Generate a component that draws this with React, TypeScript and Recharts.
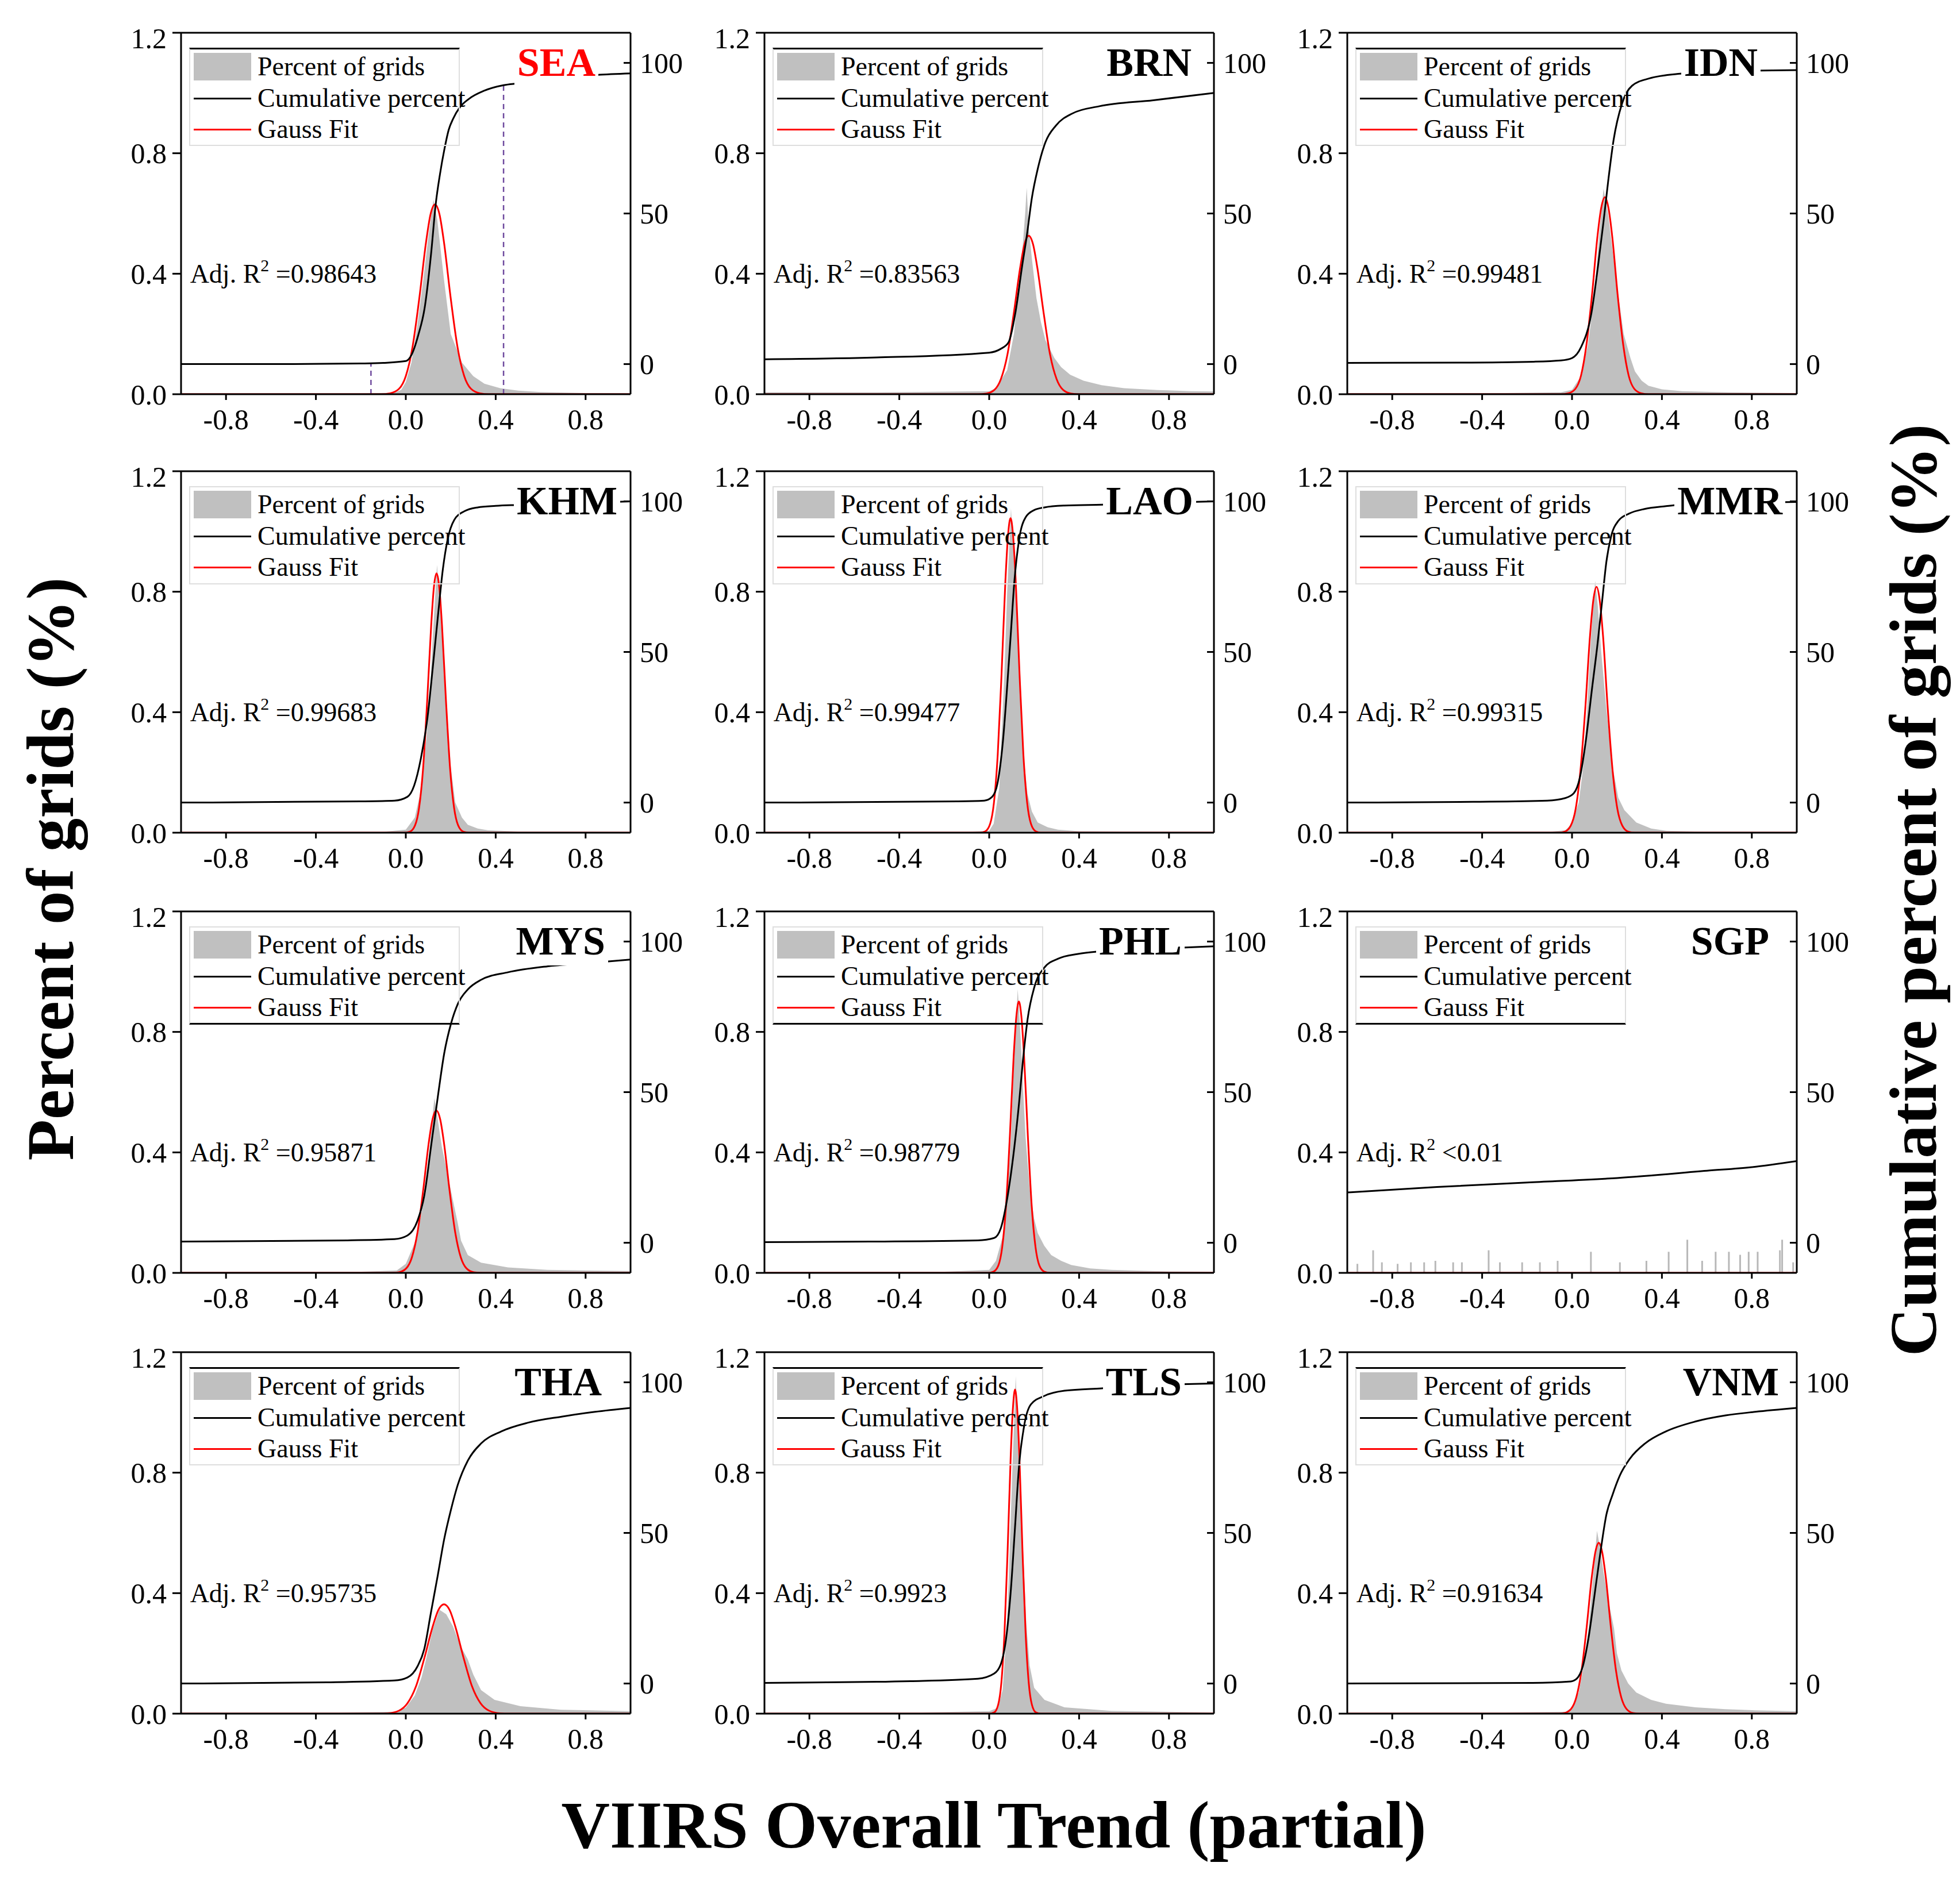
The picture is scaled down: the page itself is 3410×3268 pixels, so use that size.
import React from 'react';
import { ComposedChart, Area, Line, XAxis, YAxis, ReferenceLine, ReferenceDot, Legend } from 'recharts';

type Pt = [number, number];

const X_TICKS = [-0.8, -0.4, 0, 0.4, 0.8];
const LEFT_TICKS = [0, 0.4, 0.8, 1.2];
const RIGHT_TICKS = [0, 50, 100];
const LEGEND_LABELS = ['Percent of grids', 'Cumulative percent', 'Gauss Fit'];

// histogram outline (x, percent of grids)
const SEA_HIST: Pt[] = [[-1, 0.003], [-0.2, 0.003], [-0.05, 0.005], [-0.02, 0.015], [0, 0.04], [0.025, 0.105], [0.05, 0.22], [0.078, 0.38], [0.1, 0.52], [0.123, 0.646], [0.14, 0.58], [0.17, 0.38], [0.2, 0.2], [0.25, 0.105], [0.3, 0.06], [0.35, 0.035], [0.42, 0.02], [0.5, 0.012], [0.6, 0.007], [0.8, 0.004], [1, 0.003]];
const BRN_HIST: Pt[] = [[-1, 0.006], [-0.5, 0.006], [0, 0.01], [0.03, 0.02], [0.08, 0.08], [0.11, 0.2], [0.13, 0.35], [0.15, 0.5], [0.16, 0.6], [0.167, 0.686], [0.175, 0.56], [0.19, 0.45], [0.21, 0.32], [0.23, 0.24], [0.25, 0.18], [0.27, 0.15], [0.29, 0.12], [0.32, 0.09], [0.36, 0.065], [0.42, 0.045], [0.5, 0.03], [0.6, 0.02], [0.75, 0.014], [0.9, 0.01], [1, 0.009]];
const IDN_HIST: Pt[] = [[-1, 0.004], [-0.3, 0.004], [-0.05, 0.006], [0, 0.015], [0.04, 0.06], [0.07, 0.16], [0.1, 0.33], [0.12, 0.52], [0.14, 0.682], [0.16, 0.6], [0.18, 0.48], [0.206, 0.327], [0.23, 0.2], [0.26, 0.12], [0.28, 0.076], [0.31, 0.045], [0.34, 0.028], [0.4, 0.016], [0.49, 0.01], [0.7, 0.006], [1, 0.004]];
const KHM_HIST: Pt[] = [[-1, 0.002], [-0.1, 0.003], [0, 0.01], [0.04, 0.05], [0.07, 0.15], [0.09, 0.3], [0.106, 0.43], [0.12, 0.65], [0.139, 0.889], [0.155, 0.72], [0.17, 0.55], [0.18, 0.43], [0.2, 0.22], [0.22, 0.1], [0.25, 0.05], [0.276, 0.026], [0.32, 0.014], [0.365, 0.008], [0.5, 0.004], [1, 0.002]];
const LAO_HIST: Pt[] = [[-1, 0.002], [-0.1, 0.003], [0, 0.006], [0.02, 0.03], [0.045, 0.15], [0.067, 0.52], [0.08, 0.8], [0.097, 1.077], [0.11, 0.9], [0.12, 0.75], [0.133, 0.52], [0.15, 0.28], [0.17, 0.13], [0.19, 0.07], [0.216, 0.034], [0.26, 0.018], [0.306, 0.01], [0.4, 0.005], [1, 0.002]];
const MMR_HIST: Pt[] = [[-1, 0.002], [-0.1, 0.003], [-0.03, 0.008], [0, 0.03], [0.03, 0.1], [0.05, 0.22], [0.067, 0.408], [0.085, 0.65], [0.103, 0.836], [0.115, 0.75], [0.13, 0.6], [0.153, 0.408], [0.18, 0.22], [0.206, 0.116], [0.233, 0.075], [0.286, 0.034], [0.352, 0.014], [0.42, 0.006], [0.6, 0.003], [1, 0.002]];
const MYS_HIST: Pt[] = [[-1, 0.004], [-0.2, 0.004], [-0.04, 0.008], [0, 0.03], [0.04, 0.1], [0.07, 0.2], [0.09, 0.27], [0.11, 0.45], [0.127, 0.58], [0.14, 0.52], [0.16, 0.42], [0.185, 0.33], [0.21, 0.24], [0.23, 0.17], [0.246, 0.107], [0.276, 0.059], [0.335, 0.034], [0.455, 0.018], [0.63, 0.01], [1, 0.006]];
const PHL_HIST: Pt[] = [[-1, 0.003], [-0.2, 0.004], [0, 0.01], [0.03, 0.04], [0.06, 0.12], [0.08, 0.25], [0.097, 0.45], [0.11, 0.7], [0.127, 0.942], [0.14, 0.78], [0.15, 0.62], [0.162, 0.45], [0.18, 0.28], [0.2, 0.18], [0.216, 0.132], [0.245, 0.09], [0.276, 0.059], [0.32, 0.04], [0.365, 0.026], [0.45, 0.015], [0.544, 0.01], [0.8, 0.005], [1, 0.004]];
const SGP_HIST: Pt[] = [];
const THA_HIST: Pt[] = [[-1, 0.004], [-0.3, 0.004], [-0.05, 0.006], [0, 0.02], [0.04, 0.06], [0.07, 0.12], [0.09, 0.18], [0.12, 0.28], [0.15, 0.345], [0.18, 0.33], [0.21, 0.29], [0.24, 0.23], [0.276, 0.18], [0.3, 0.13], [0.335, 0.078], [0.395, 0.046], [0.51, 0.025], [0.69, 0.013], [1, 0.008]];
const TLS_HIST: Pt[] = [[-1, 0.003], [-0.3, 0.004], [0, 0.008], [0.04, 0.02], [0.06, 0.08], [0.08, 0.3], [0.091, 0.54], [0.105, 0.85], [0.118, 1.12], [0.13, 0.9], [0.14, 0.72], [0.151, 0.54], [0.165, 0.3], [0.18, 0.16], [0.2, 0.086], [0.246, 0.046], [0.335, 0.021], [0.544, 0.009], [1, 0.004]];
const VNM_HIST: Pt[] = [[-1, 0.003], [-0.3, 0.004], [-0.03, 0.006], [0, 0.02], [0.03, 0.07], [0.05, 0.15], [0.074, 0.283], [0.09, 0.42], [0.111, 0.607], [0.125, 0.55], [0.14, 0.47], [0.16, 0.38], [0.187, 0.283], [0.2, 0.2], [0.22, 0.143], [0.25, 0.1], [0.286, 0.07], [0.352, 0.046], [0.418, 0.033], [0.55, 0.021], [0.683, 0.015], [0.815, 0.011], [1, 0.008]];

// Singapore only has scattered single bins (x, height)
const SGP_SPIKES: Pt[] = [[-0.955, 0.03], [-0.885, 0.075], [-0.846, 0.035], [-0.776, 0.03], [-0.717, 0.035], [-0.658, 0.035], [-0.608, 0.04], [-0.529, 0.035], [-0.49, 0.035], [-0.371, 0.075], [-0.321, 0.035], [-0.222, 0.035], [-0.143, 0.035], [-0.064, 0.04], [0.084, 0.07], [0.213, 0.035], [0.331, 0.04], [0.43, 0.07], [0.513, 0.11], [0.579, 0.04], [0.639, 0.07], [0.698, 0.07], [0.748, 0.06], [0.786, 0.07], [0.826, 0.07], [0.925, 0.075], [0.935, 0.11], [0.984, 0.035]];

// gauss fit
const SEA_GAUSS: Pt[] = [[-1, 0], [-0.11, 0], [-0.07, 0.003], [-0.03, 0.018], [0, 0.06], [0.03, 0.157], [0.06, 0.318], [0.09, 0.504], [0.11, 0.597], [0.13, 0.63], [0.15, 0.597], [0.17, 0.504], [0.2, 0.318], [0.23, 0.157], [0.26, 0.06], [0.29, 0.018], [0.33, 0.003], [0.37, 0], [1, 0]];
const BRN_GAUSS: Pt[] = [[-1, 0], [-0.05, 0], [-0.014, 0.002], [0.024, 0.015], [0.052, 0.05], [0.081, 0.131], [0.109, 0.266], [0.138, 0.421], [0.157, 0.498], [0.176, 0.526], [0.195, 0.498], [0.214, 0.421], [0.243, 0.266], [0.271, 0.131], [0.3, 0.05], [0.328, 0.015], [0.366, 0.002], [0.4, 0], [1, 0]];
const IDN_GAUSS: Pt[] = [[-1, 0], [-0.05, 0], [-0.017, 0.003], [0.015, 0.018], [0.04, 0.062], [0.064, 0.163], [0.089, 0.33], [0.113, 0.523], [0.13, 0.619], [0.146, 0.654], [0.162, 0.619], [0.179, 0.523], [0.203, 0.33], [0.228, 0.163], [0.252, 0.062], [0.277, 0.018], [0.309, 0.003], [0.34, 0], [1, 0]];
const KHM_GAUSS: Pt[] = [[-1, 0], [-0.01, 0], [0.017, 0.003], [0.041, 0.024], [0.059, 0.082], [0.077, 0.214], [0.095, 0.435], [0.113, 0.689], [0.125, 0.815], [0.137, 0.861], [0.149, 0.815], [0.161, 0.689], [0.179, 0.435], [0.197, 0.214], [0.215, 0.082], [0.233, 0.024], [0.257, 0.003], [0.28, 0], [1, 0]];
const LAO_GAUSS: Pt[] = [[-1, 0], [-0.04, 0], [-0.018, 0.004], [0.004, 0.029], [0.021, 0.099], [0.038, 0.26], [0.055, 0.527], [0.072, 0.835], [0.084, 0.989], [0.095, 1.044], [0.106, 0.989], [0.118, 0.835], [0.135, 0.527], [0.152, 0.26], [0.169, 0.099], [0.186, 0.029], [0.208, 0.004], [0.23, 0], [1, 0]];
const MMR_GAUSS: Pt[] = [[-1, 0], [-0.06, 0], [-0.034, 0.003], [-0.006, 0.023], [0.016, 0.078], [0.037, 0.203], [0.059, 0.412], [0.08, 0.653], [0.095, 0.773], [0.109, 0.816], [0.123, 0.773], [0.138, 0.653], [0.159, 0.412], [0.181, 0.203], [0.202, 0.078], [0.224, 0.023], [0.252, 0.003], [0.28, 0], [1, 0]];
const MYS_GAUSS: Pt[] = [[-1, 0], [-0.06, 0], [-0.031, 0.002], [0.002, 0.015], [0.027, 0.051], [0.052, 0.134], [0.077, 0.272], [0.102, 0.431], [0.119, 0.51], [0.136, 0.539], [0.153, 0.51], [0.17, 0.431], [0.195, 0.272], [0.22, 0.134], [0.245, 0.051], [0.27, 0.015], [0.303, 0.002], [0.34, 0], [1, 0]];
const PHL_GAUSS: Pt[] = [[-1, 0], [-0.005, 0], [0.019, 0.004], [0.041, 0.025], [0.058, 0.086], [0.075, 0.224], [0.092, 0.455], [0.109, 0.721], [0.121, 0.853], [0.132, 0.901], [0.143, 0.853], [0.155, 0.721], [0.172, 0.455], [0.189, 0.224], [0.206, 0.086], [0.223, 0.025], [0.245, 0.004], [0.27, 0], [1, 0]];
const SGP_GAUSS: Pt[] = [[-1, 0], [1, 0]];
const THA_GAUSS: Pt[] = [[-1, 0], [-0.12, 0], [-0.08, 0.001], [-0.03, 0.01], [0.007, 0.034], [0.045, 0.09], [0.082, 0.183], [0.12, 0.29], [0.145, 0.344], [0.17, 0.363], [0.195, 0.344], [0.22, 0.29], [0.258, 0.183], [0.295, 0.09], [0.333, 0.034], [0.37, 0.01], [0.42, 0.001], [0.46, 0], [1, 0]];
const TLS_GAUSS: Pt[] = [[-1, 0], [0, 0], [0.022, 0.004], [0.04, 0.03], [0.054, 0.102], [0.068, 0.268], [0.082, 0.543], [0.096, 0.861], [0.106, 1.019], [0.115, 1.076], [0.124, 1.019], [0.134, 0.861], [0.148, 0.543], [0.162, 0.268], [0.176, 0.102], [0.19, 0.03], [0.208, 0.004], [0.23, 0], [1, 0]];
const VNM_GAUSS: Pt[] = [[-1, 0], [-0.06, 0], [-0.034, 0.002], [-0.004, 0.016], [0.019, 0.054], [0.042, 0.141], [0.065, 0.286], [0.088, 0.454], [0.104, 0.537], [0.119, 0.567], [0.134, 0.537], [0.15, 0.454], [0.173, 0.286], [0.196, 0.141], [0.219, 0.054], [0.242, 0.016], [0.272, 0.002], [0.3, 0], [1, 0]];

// cumulative percent (right axis)
const SEA_CUM: Pt[] = [[-1, 0], [-0.5, 0], [-0.2, 0.2], [-0.1, 0.4], [0, 1], [0.025, 3], [0.055, 9.5], [0.084, 18.7], [0.113, 37], [0.133, 53], [0.152, 63], [0.172, 71.4], [0.191, 77.8], [0.211, 81.5], [0.24, 85.2], [0.28, 88], [0.35, 90.8], [0.435, 92.6], [0.5, 93.2], [0.7, 95], [0.85, 96], [1, 96.5]];
const BRN_CUM: Pt[] = [[-1, 1.6], [-0.5, 2.2], [0, 3.8], [0.05, 5], [0.086, 7.2], [0.116, 16.8], [0.147, 32.8], [0.167, 42.4], [0.19, 55.2], [0.216, 64.8], [0.25, 73.6], [0.297, 79.2], [0.37, 83.2], [0.49, 85.6], [0.73, 87.6], [1, 90]];
const IDN_CUM: Pt[] = [[-1, 0.4], [-0.5, 0.5], [-0.17, 0.8], [-0.05, 1.2], [0, 2], [0.04, 5.6], [0.086, 16.8], [0.116, 32.8], [0.14, 47.2], [0.161, 60.8], [0.185, 74.4], [0.222, 86.4], [0.267, 92.4], [0.342, 94.8], [0.48, 96.4], [0.7, 97.2], [1, 97.6]];
const KHM_CUM: Pt[] = [[-1, 0], [-0.2, 0.4], [-0.05, 0.65], [0.007, 1.9], [0.037, 5.6], [0.067, 14.6], [0.097, 28.5], [0.12, 44.8], [0.142, 61.2], [0.165, 77.5], [0.186, 87.3], [0.216, 93.9], [0.26, 96.7], [0.32, 98], [0.4, 98.5], [0.5, 98.8], [0.8, 99.5], [1, 100]];
const LAO_CUM: Pt[] = [[-1, 0], [-0.14, 0.4], [-0.022, 0.65], [0.013, 1.9], [0.037, 6.4], [0.061, 20.3], [0.082, 40.7], [0.097, 57], [0.112, 73.4], [0.133, 87.3], [0.162, 94.7], [0.2, 97.1], [0.246, 98], [0.335, 98.6], [0.5, 98.9], [0.8, 99.6], [1, 100]];
const MMR_CUM: Pt[] = [[-1, 0], [-0.44, 0.25], [-0.11, 0.65], [-0.03, 1.5], [0.008, 3.1], [0.034, 8], [0.061, 20.3], [0.087, 36.6], [0.114, 53], [0.134, 66.9], [0.153, 80], [0.173, 88.1], [0.206, 93.5], [0.253, 95.9], [0.325, 97.5], [0.418, 98.4], [0.47, 98.8], [0.8, 99.5], [1, 99.8]];
const MYS_CUM: Pt[] = [[-1, 0.4], [-0.26, 0.8], [-0.05, 1.2], [0.007, 2.4], [0.052, 7.3], [0.082, 15.5], [0.112, 31.8], [0.142, 48.2], [0.171, 62.9], [0.201, 72.7], [0.231, 79.2], [0.276, 84.1], [0.335, 87.3], [0.455, 89.8], [0.633, 91.8], [0.872, 93.2], [1, 94]];
const PHL_CUM: Pt[] = [[-1, 0.2], [-0.53, 0.4], [-0.05, 0.8], [0.022, 1.6], [0.052, 4.9], [0.082, 15.5], [0.112, 31.8], [0.133, 46.5], [0.15, 60.4], [0.171, 74.3], [0.201, 84.9], [0.246, 91.4], [0.306, 94.3], [0.395, 95.9], [0.484, 96.7], [0.8, 97.8], [1, 98.4]];
const SGP_CUM: Pt[] = [[-1, 16.7], [-0.6, 18.5], [-0.2, 20], [0.2, 21.5], [0.6, 23.9], [0.8, 25.1], [1, 27.1]];
const THA_CUM: Pt[] = [[-1, 0], [-0.35, 0.4], [-0.05, 1], [0.007, 2], [0.052, 5.7], [0.082, 11.4], [0.112, 23.6], [0.142, 35.8], [0.171, 48], [0.201, 57.7], [0.231, 65.9], [0.276, 74], [0.335, 79.7], [0.425, 83.7], [0.544, 86.6], [0.693, 88.6], [0.842, 90.2], [1, 91.5]];
const TLS_CUM: Pt[] = [[-1, 0.2], [-0.35, 0.8], [-0.05, 1.6], [0.022, 3.3], [0.052, 6.5], [0.076, 15.4], [0.097, 31.7], [0.115, 52], [0.133, 72.4], [0.157, 86.2], [0.186, 92.7], [0.246, 95.5], [0.335, 97.2], [0.5, 98], [0.8, 99.2], [1, 99.6]];
const VNM_CUM: Pt[] = [[-1, 0], [-0.177, 0.2], [-0.005, 0.7], [0.021, 1.6], [0.048, 5.7], [0.074, 15.4], [0.1, 29.3], [0.127, 43.9], [0.153, 56.1], [0.18, 62.6], [0.213, 69.1], [0.259, 74.8], [0.325, 79.7], [0.418, 83.7], [0.55, 87], [0.683, 89], [0.815, 90.2], [1, 91.5]];

// dashed markers on the SEA panel: x, cumulative value they reach
const SEA_MARKS: Pt[] = [[-0.155, 0.3], [0.435, 92.6]];

const PANELS = [
  { code: 'SEA', color: '#ff0000', r2: '=0.98643', hist: SEA_HIST, gauss: SEA_GAUSS, cum: SEA_CUM, labelRight: 61, topDark: true, bottomDark: false, marks: SEA_MARKS },
  { code: 'BRN', color: '#000', r2: '=0.83563', hist: BRN_HIST, gauss: BRN_GAUSS, cum: BRN_CUM, labelRight: 39, topDark: true, bottomDark: false },
  { code: 'IDN', color: '#000', r2: '=0.99481', hist: IDN_HIST, gauss: IDN_GAUSS, cum: IDN_CUM, labelRight: 68, topDark: true, bottomDark: false },
  { code: 'KHM', color: '#000', r2: '=0.99683', hist: KHM_HIST, gauss: KHM_GAUSS, cum: KHM_CUM, labelRight: 23, topDark: false, bottomDark: false },
  { code: 'LAO', color: '#000', r2: '=0.99477', hist: LAO_HIST, gauss: LAO_GAUSS, cum: LAO_CUM, labelRight: 36, topDark: false, bottomDark: false },
  { code: 'MMR', color: '#000', r2: '=0.99315', hist: MMR_HIST, gauss: MMR_GAUSS, cum: MMR_CUM, labelRight: 25, topDark: false, bottomDark: false },
  { code: 'MYS', color: '#000', r2: '=0.95871', hist: MYS_HIST, gauss: MYS_GAUSS, cum: MYS_CUM, labelRight: 44, topDark: false, bottomDark: true },
  { code: 'PHL', color: '#000', r2: '=0.98779', hist: PHL_HIST, gauss: PHL_GAUSS, cum: PHL_CUM, labelRight: 56, topDark: false, bottomDark: true },
  { code: 'SGP', color: '#000', r2: '<0.01', hist: SGP_HIST, gauss: SGP_GAUSS, cum: SGP_CUM, labelRight: 48, topDark: false, bottomDark: true, spikes: SGP_SPIKES },
  { code: 'THA', color: '#000', r2: '=0.95735', hist: THA_HIST, gauss: THA_GAUSS, cum: THA_CUM, labelRight: 50, topDark: true, bottomDark: false },
  { code: 'TLS', color: '#000', r2: '=0.9923', hist: TLS_HIST, gauss: TLS_GAUSS, cum: TLS_CUM, labelRight: 56, topDark: true, bottomDark: false },
  { code: 'VNM', color: '#000', r2: '=0.91634', hist: VNM_HIST, gauss: VNM_GAUSS, cum: VNM_CUM, labelRight: 31, topDark: true, bottomDark: false },
];

const FONT = '"Liberation Serif", "Times New Roman", serif';
const COL_X = [315, 1330, 2344];
const ROW_Y = [57, 820, 1586, 2353];
const PLOT_W = 782;
const PLOT_H = 629;
const AXIS_L = 150;
const AXIS_R = 150;
const TOP = 20;
const X_AXIS_H = 90;
const CHART_W = AXIS_L + PLOT_W + AXIS_R;
const CHART_H = TOP + PLOT_H + X_AXIS_H;

const toXY = (pts: Pt[]) => pts.map(([x, y]) => ({ x, y }));
const tickStyle = { fill: '#000', fontSize: 50, fontFamily: FONT };
const axisStroke = { stroke: '#000', strokeWidth: 3 };

const LegendBox = ({ topDark, bottomDark }: { topDark: boolean; bottomDark: boolean }) => {
  const light = '2px solid #dedede';
  const dark = '3px solid #000';
  const rowTop = [32, 87, 141];
  return (
    <div
      style={{
        position: 'relative', width: 471, height: 171, boxSizing: 'border-box',
        border: light, borderTop: topDark ? dark : light, borderBottom: bottomDark ? dark : light,
        fontFamily: FONT, fontSize: 46, color: '#000',
      }}
    >
      {LEGEND_LABELS.map((label, i) => (
        <div key={label} style={{ position: 'absolute', left: 0, top: rowTop[i] - 27, height: 50, width: 469 }}>
          {i === 0 && <div style={{ position: 'absolute', left: 6, top: 1, width: 100, height: 48, background: '#c0c0c0' }} />}
          {i > 0 && <div style={{ position: 'absolute', left: 6, top: 24, width: 100, height: 3, background: i === 1 ? '#000' : '#ff0000' }} />}
          <div style={{ position: 'absolute', left: 117, top: 0, lineHeight: '50px', whiteSpace: 'nowrap' }}>{label}</div>
        </div>
      ))}
    </div>
  );
};

const Panel = ({ p, index }: { p: any; index: number }) => {
  const left = COL_X[index % 3] - AXIS_L;
  const top = ROW_Y[Math.floor(index / 3)] - TOP;
  return (
    <div style={{ position: 'absolute', left, top, width: CHART_W, height: CHART_H }}>
      <ComposedChart width={CHART_W} height={CHART_H} margin={{ top: TOP, right: 0, bottom: 0, left: 0 }}>
        <XAxis xAxisId="b" type="number" dataKey="x" domain={[-1, 1]} ticks={X_TICKS} allowDataOverflow
          tickFormatter={(v: number) => v.toFixed(1)} height={X_AXIS_H} tickSize={10} tickMargin={15}
          tick={tickStyle} axisLine={axisStroke} tickLine={axisStroke} />
        <YAxis yAxisId="left" type="number" domain={[0, 1.2]} ticks={LEFT_TICKS} allowDataOverflow
          tickFormatter={(v: number) => v.toFixed(1)} width={AXIS_L} tickSize={15} tickMargin={10}
          tick={tickStyle} axisLine={axisStroke} tickLine={axisStroke} />
        <YAxis yAxisId="right" orientation="right" type="number" domain={[-10, 110]} ticks={RIGHT_TICKS} allowDataOverflow
          width={AXIS_R} tickSize={-12} tickMargin={28}
          tick={tickStyle} axisLine={axisStroke} tickLine={axisStroke} />
        <Legend layout="horizontal" verticalAlign="middle" align="center"
          wrapperStyle={{ left: AXIS_L + 14, top: TOP + 26, width: 471, height: 171 }}
          content={() => <LegendBox topDark={p.topDark} bottomDark={p.bottomDark} />} />
        {/* top edge of the frame */}
        <ReferenceLine xAxisId="b" yAxisId="left" y={1.2} stroke="#000" strokeWidth={3} />
        {p.hist.length > 0 && (
          <Area data={toXY(p.hist)} dataKey="y" xAxisId="b" yAxisId="left" type="linear"
            stroke="none" fill="#c0c0c0" fillOpacity={1} isAnimationActive={false} />
        )}
        {(p.spikes || []).map(([x, h]: Pt) => (
          <ReferenceLine key={x} xAxisId="b" yAxisId="left" segment={[{ x, y: 0 }, { x, y: h }]}
            stroke="#b8b8b8" strokeWidth={3} />
        ))}
        {(p.marks || []).map(([x, v]: Pt) => (
          <ReferenceLine key={x} xAxisId="b" yAxisId="right" segment={[{ x, y: -10 }, { x, y: v }]}
            stroke="#6f4a9e" strokeWidth={2.5} strokeDasharray="9 7" />
        ))}
        <Line data={toXY(p.gauss)} dataKey="y" xAxisId="b" yAxisId="left" type="monotone"
          stroke="#ff0000" strokeWidth={3} dot={false} isAnimationActive={false} />
        <Line data={toXY(p.cum)} dataKey="y" xAxisId="b" yAxisId="right" type="monotone"
          stroke="#000" strokeWidth={3} dot={false} isAnimationActive={false} />
        <ReferenceDot xAxisId="b" yAxisId="left" x={-0.96} y={0.4} r={0}
          shape={(s: any) => (
            <text x={s.cx} y={s.cy} dy={16} fontFamily={FONT} fontSize={46} fill="#000">
              Adj. R<tspan dy={-20} fontSize={30}>2</tspan><tspan dy={20} fontSize={46}>{' ' + p.r2}</tspan>
            </text>
          )} />
      </ComposedChart>
      <div
        style={{
          position: 'absolute', right: AXIS_R + p.labelRight - 5, top: TOP + 10, height: 84, lineHeight: '84px',
          padding: '0 5px', background: '#fff', fontFamily: FONT, fontWeight: 700, fontSize: 70, color: p.color,
        }}
      >
        {p.code}
      </div>
    </div>
  );
};

const titleStyle: React.CSSProperties = {
  position: 'absolute', fontFamily: FONT, fontWeight: 700, fontSize: 117, color: '#000',
  whiteSpace: 'nowrap', lineHeight: 1,
};

export default function App() {
  return (
    <div style={{ position: 'relative', width: 3410, height: 3268, margin: -8, background: '#fff', overflow: 'hidden' }}>
      {PANELS.map((p, i) => (
        <Panel key={p.code} p={p} index={i} />
      ))}
      <div style={{ ...titleStyle, left: 87, top: 1512, transform: 'translate(-50%, -50%) rotate(-90deg)' }}>
        Percent of grids (%)
      </div>
      <div style={{ ...titleStyle, left: 3328, top: 1549, transform: 'translate(-50%, -50%) rotate(-90deg)' }}>
        Cumulative percent of grids (%)
      </div>
      <div style={{ ...titleStyle, left: 1729, top: 3175, transform: 'translate(-50%, -50%)' }}>
        VIIRS Overall Trend (partial)
      </div>
    </div>
  );
}
